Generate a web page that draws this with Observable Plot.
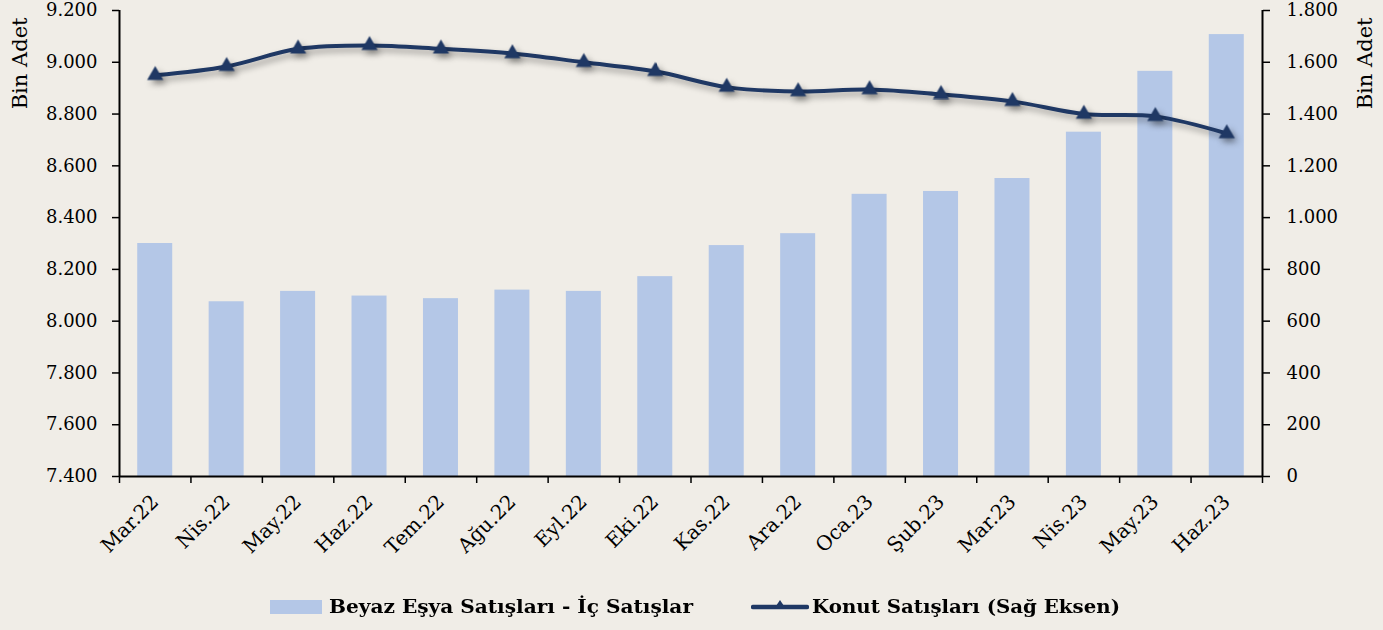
<!DOCTYPE html>
<html>
<head>
<meta charset="utf-8">
<script src="https://cdn.jsdelivr.net/npm/d3@7"></script>
<script src="https://cdn.jsdelivr.net/npm/@observablehq/plot@0.6"></script>
<style>
  html, body { margin: 0; padding: 0; background: #f0ede7; }
  #wrap { position: relative; width: 1383px; height: 630px; overflow: hidden; background: #f0ede7; }
  #chart { position: absolute; left: 0; top: 0; }
  .leg-text { position: absolute; top: 594px; line-height: 24px; font-family: "DejaVu Serif", serif; font-weight: bold; font-size: 19px; color: #000; white-space: nowrap; transform-origin: left center; display: inline-block; }
</style>
</head>
<body>
<div id="wrap">
  <div id="chart"></div>
  <div style="position:absolute; left:270px; top:600px; width:52px; height:14px; background:#b4c7e7;"></div>
  <span class="leg-text" id="leg1" style="left:329px;">Beyaz Eşya Satışları - İç Satışlar</span>
  <svg style="position:absolute; left:751px; top:597px;" width="58" height="20">
    <line x1="2" y1="10" x2="56" y2="10" stroke="#1f3864" stroke-width="4.5" stroke-linecap="round"></line>
    <path d="M29,3 L35,12 L23,12 Z" fill="#1f3864"></path>
  </svg>
  <span class="leg-text" id="leg2" style="left:812px;">Konut Satışları (Sağ Eksen)</span>
</div>
<script>
const categories = ["Mar.22","Nis.22","May.22","Haz.22","Tem.22","Ağu.22","Eyl.22","Eki.22","Kas.22","Ara.22","Oca.23","Şub.23","Mar.23","Nis.23","May.23","Haz.23"];
const beyazEsya = [8300, 8075, 8115, 8097, 8087, 8120, 8115, 8172, 8292, 8338, 8490, 8501, 8551, 8730, 8965, 9107];
const konut = [1550, 1584, 1652, 1665, 1652, 1634, 1600, 1565, 1504, 1487, 1495, 1476, 1449, 1400, 1391, 1325];
const leftTicks = [7400, 7600, 7800, 8000, 8200, 8400, 8600, 8800, 9000, 9200];
const rightTicks = [0, 200, 400, 600, 800, 1000, 1200, 1400, 1600, 1800];
const leftMin = 7400;

const locale = d3.formatLocale({decimal: ",", thousands: ".", grouping: [3], currency: ["", ""]});
const fmt = locale.format(",d");

const data = categories.map((c, i) => ({i, cat: c, beyaz: beyazEsya[i], konut: konut[i]}));
const boundaries = d3.range(categories.length + 1).map(k => k - 0.5);

const navy = "#1f3864";
const chart = Plot.plot({
  width: 1383,
  height: 580,
  marginTop: 10,
  marginBottom: 104,
  marginLeft: 119,
  marginRight: 121,
  style: {background: "transparent", fontFamily: "DejaVu Serif", fontSize: "18px", color: "#000"},
  x: {type: "linear", domain: [-0.5, categories.length - 0.5]},
  y: {domain: [leftMin, 9200]},
  marks: [
    Plot.rect(data, {x1: d => d.i - 0.245, x2: d => d.i + 0.245, y1: leftMin, y2: "beyaz", fill: "#b4c7e7"}),
    Plot.line(data, {x: "i", y: d => d.konut + leftMin, stroke: navy, strokeWidth: 4, curve: "catmull-rom"}),
    Plot.dot(data, {x: "i", y: d => d.konut + leftMin, symbol: "triangle", r: 6, fill: navy, stroke: "none"}),
    Plot.axisY({anchor: "left", ticks: leftTicks, tickFormat: fmt, tickSize: 7, tickPadding: 15, label: null, fontSize: 18, strokeWidth: 1.5}),
    Plot.axisY({anchor: "right", ticks: rightTicks.map(v => v + leftMin), tickFormat: d => fmt(d - leftMin), tickSize: 7, tickPadding: 17, label: null, fontSize: 18, strokeWidth: 1.5}),
    Plot.axisX({ticks: boundaries, tickFormat: () => "", tickSize: 7, label: null, strokeWidth: 1.5}),
    Plot.axisX({ticks: d3.range(categories.length), tickFormat: i => categories[i], tickSize: 0, tickPadding: 22, tickRotate: -45, label: null, fontSize: 20}),
    Plot.ruleX([-0.5, categories.length - 0.5], {stroke: "#000", strokeWidth: 2}),
    Plot.ruleY([leftMin], {stroke: "#000", strokeWidth: 2}),
    Plot.text(["Bin Adet"], {frameAnchor: "top-left", rotate: -90, textAnchor: "end", lineAnchor: "middle", dx: -99, dy: 7, fontSize: 21, fill: "#000"}),
    Plot.text(["Bin Adet"], {frameAnchor: "top-right", rotate: -90, textAnchor: "end", lineAnchor: "middle", dx: 103, dy: 7, fontSize: 21, fill: "#000"})
  ]
});
document.getElementById("chart").appendChild(chart);
chart.querySelectorAll('g[aria-label="line"], g[aria-label="dot"]').forEach(g => {
  g.style.filter = "drop-shadow(3px 4px 3px rgba(0,0,0,0.35))";
});
function fit(id, target) {
  const el = document.getElementById(id);
  const w = el.getBoundingClientRect().width;
  el.style.transform = `scaleX(${target / w})`;
}
fit("leg1", 364);
fit("leg2", 308);
</script>
</body>
</html>
